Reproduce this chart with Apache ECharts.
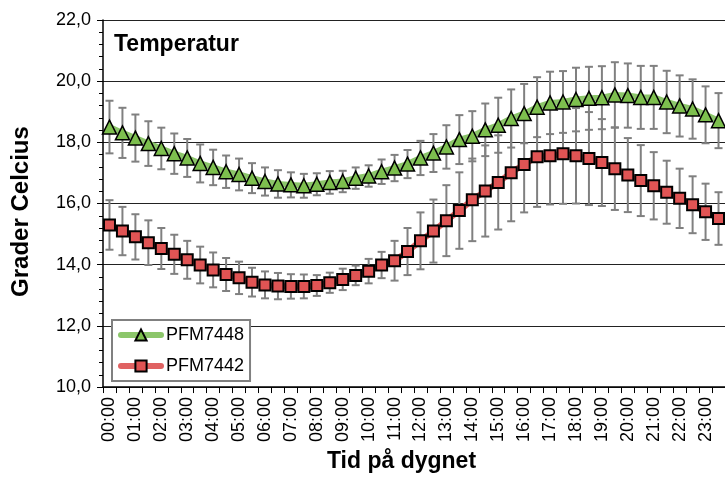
<!DOCTYPE html>
<html>
<head>
<meta charset="utf-8">
<script src="https://cdn.jsdelivr.net/npm/echarts@6/dist/echarts.min.js"></script>
<style>
  html, body { margin: 0; padding: 0; background: #fff; }
  #main { width: 725px; height: 478px; }
</style>
</head>
<body>
<div id="main"></div>
<script>
// tidspunkter, hver halvtime
var times = ['00:00','00:30','01:00','01:30','02:00','02:30','03:00','03:30','04:00','04:30','05:00','05:30',
  '06:00','06:30','07:00','07:30','08:00','08:30','09:00','09:30','10:00','10:30','11:00','11:30',
  '12:00','12:30','13:00','13:30','14:00','14:30','15:00','15:30','16:00','16:30','17:00','17:30',
  '18:00','18:30','19:00','19:30','20:00','20:30','21:00','21:30','22:00','22:30','23:00','23:30'];

var pfm7448 = [18.50,18.31,18.14,17.96,17.80,17.63,17.49,17.31,17.18,17.04,16.95,16.83,
  16.72,16.64,16.61,16.58,16.63,16.69,16.72,16.83,16.90,17.04,17.16,17.29,
  17.49,17.65,17.85,18.09,18.20,18.41,18.56,18.78,18.94,19.15,19.29,19.32,
  19.40,19.44,19.46,19.55,19.53,19.47,19.47,19.32,19.19,19.09,18.90,18.71];
var pfm7448Err = [0.86,0.82,0.77,0.73,0.68,0.66,0.62,0.62,0.58,0.53,0.52,0.49,
  0.46,0.45,0.41,0.39,0.36,0.37,0.35,0.35,0.35,0.40,0.43,0.46,
  0.56,0.62,0.71,0.80,0.82,0.86,0.90,0.95,0.97,0.98,1.02,1.01,
  1.04,1.03,1.03,1.07,1.05,1.03,1.03,1.02,1.00,0.97,0.93,0.90];

var pfm7442 = [15.30,15.10,14.91,14.72,14.53,14.34,14.16,13.99,13.83,13.68,13.57,13.43,
  13.34,13.30,13.29,13.29,13.32,13.41,13.52,13.65,13.79,13.99,14.13,14.43,
  14.78,15.10,15.44,15.77,16.12,16.41,16.69,17.01,17.28,17.53,17.56,17.63,
  17.56,17.47,17.34,17.14,16.93,16.75,16.58,16.37,16.17,15.96,15.73,15.51];
var pfm7442Err = [0.81,0.79,0.74,0.73,0.67,0.64,0.62,0.60,0.57,0.54,0.53,0.47,
  0.44,0.43,0.40,0.39,0.34,0.33,0.35,0.32,0.40,0.43,0.65,0.77,
  0.93,1.03,1.16,1.25,1.35,1.49,1.54,1.59,1.57,1.64,1.59,1.64,
  1.56,1.52,1.42,1.35,1.21,1.16,1.10,1.03,0.97,0.93,0.92,0.86];

var font = 'Liberation Sans, Arial, sans-serif';

function errData(vals, errs) {
  return vals.map(function (v, i) {
    return [i, v - errs[i], v + errs[i]];
  });
}

function renderErr(params, api) {
  var lo = api.coord([api.value(0), api.value(1)]);
  var hi = api.coord([api.value(0), api.value(2)]);
  var cap = 4;
  var st = { stroke: '#808080', lineWidth: 2 };
  return {
    type: 'group',
    children: [
      { type: 'line', shape: { x1: lo[0], y1: lo[1], x2: hi[0], y2: hi[1] }, style: st },
      { type: 'line', shape: { x1: lo[0] - cap, y1: lo[1], x2: lo[0] + cap, y2: lo[1] }, style: st },
      { type: 'line', shape: { x1: hi[0] - cap, y1: hi[1], x2: hi[0] + cap, y2: hi[1] }, style: st }
    ]
  };
}

var myChart = echarts.init(document.getElementById('main'));

var option = {
  animation: false,
  textStyle: { fontFamily: font, color: '#000' },
  title: {
    text: 'Temperatur',
    left: 114,
    top: 33,
    padding: 0,
    textStyle: { fontFamily: font, fontSize: 23, fontWeight: 'bold', color: '#000' }
  },
  legend: {
    orient: 'vertical',
    left: 112,
    top: 320,
    padding: [6, 6, 6, 6],
    itemWidth: 40,
    itemHeight: 14,
    itemGap: 13,
    borderColor: '#808080',
    borderWidth: 2,
    backgroundColor: '#fff',
    lineStyle: { width: 6, cap: 'round' },
    textStyle: { fontFamily: font, fontSize: 18, color: '#000' },
    data: ['PFM7448', 'PFM7442']
  },
  grid: { left: 103, top: 20, right: -5, bottom: 87 },
  xAxis: {
    type: 'category',
    data: times,
    boundaryGap: true,
    name: 'Tid på dygnet',
    nameLocation: 'middle',
    nameGap: 60,
    nameTextStyle: { fontFamily: font, fontSize: 23, fontWeight: 'bold', color: '#000', padding: [0, 25, 0, 0] },
    axisLine: { lineStyle: { color: '#000', width: 1.5 } },
    axisTick: { show: true, interval: 0, length: 6, lineStyle: { color: '#000' } },
    axisLabel: { interval: 1, rotate: 90, fontSize: 18, color: '#000', margin: 10, fontFamily: font },
    splitLine: { show: false }
  },
  yAxis: {
    type: 'value',
    min: 10,
    max: 22,
    interval: 2,
    name: 'Grader Celcius',
    nameLocation: 'middle',
    nameGap: 70,
    nameTextStyle: { fontFamily: font, fontSize: 24, fontWeight: 'bold', color: '#000', padding: [0, 16, 0, 0] },
    axisLine: { show: true, lineStyle: { color: '#000', width: 1.5 } },
    axisTick: { show: true, length: 6, lineStyle: { color: '#000' } },
    minorTick: { show: true, splitNumber: 5, length: 4, lineStyle: { color: '#000' } },
    axisLabel: {
      fontSize: 18, color: '#000', margin: 12, fontFamily: font,
      formatter: function (v) { return v.toFixed(1).replace('.', ','); }
    },
    splitLine: { show: true, lineStyle: { color: '#222', width: 1 } }
  },
  series: [
    {
      type: 'custom',
      name: 'err7448',
      renderItem: renderErr,
      data: errData(pfm7448, pfm7448Err),
      z: 1,
      silent: true
    },
    {
      type: 'custom',
      name: 'err7442',
      renderItem: renderErr,
      data: errData(pfm7442, pfm7442Err),
      z: 1,
      silent: true
    },
    {
      name: 'PFM7448',
      type: 'line',
      data: pfm7448,
      z: 3,
      symbol: 'triangle',
      symbolSize: 14,
      showAllSymbol: true,
      lineStyle: { color: '#8cc66a', width: 6 },
      itemStyle: { color: '#7dbf4e', borderColor: '#000', borderWidth: 1.5 }
    },
    {
      name: 'PFM7442',
      type: 'line',
      data: pfm7442,
      z: 3,
      symbol: 'rect',
      symbolSize: 11,
      showAllSymbol: true,
      lineStyle: { color: '#e06262', width: 6 },
      itemStyle: { color: '#e05454', borderColor: '#000', borderWidth: 2 }
    }
  ]
};

myChart.setOption(option);
window.addEventListener('resize', function () {
  myChart.resize();
});
</script>
</body>
</html>
